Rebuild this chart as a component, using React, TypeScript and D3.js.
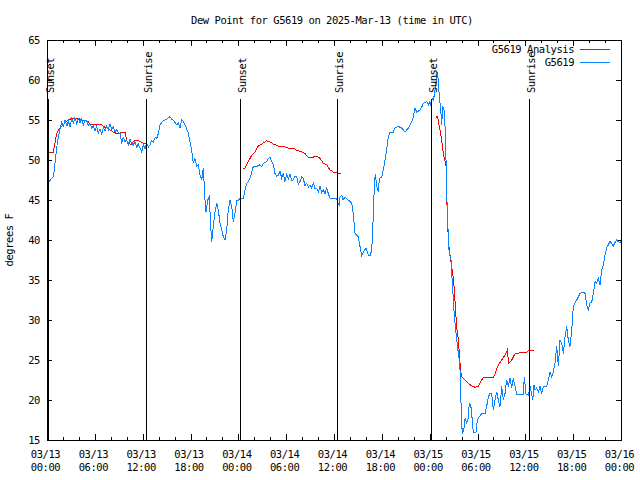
import React from "react";
import * as d3 from "d3";

const START = Date.UTC(2025, 2, 13);
const END = Date.UTC(2025, 2, 16);

const blueHours = [0.04,0.25,0.59,0.79,0.92,1.09,1.29,1.51,1.72,1.84,2.04,2.26,2.51,2.67,2.89,3.10,3.30,3.51,3.73,3.93,4.14,4.35,4.55,4.77,5.02,5.18,5.39,5.61,5.81,6.02,6.23,6.44,6.65,6.86,7.06,7.28,7.49,7.69,7.90,8.11,8.32,8.53,8.74,8.94,9.16,9.37,9.57,9.78,9.99,10.20,10.41,10.62,10.83,11.04,11.25,11.45,11.67,11.88,12.08,12.29,12.51,12.71,12.92,13.13,13.33,13.55,13.76,13.96,14.17,14.39,14.59,14.80,15.01,15.22,15.43,15.64,15.84,16.06,16.27,16.47,16.68,16.90,17.10,17.31,17.52,17.72,17.94,18.15,18.35,18.56,18.78,18.98,19.19,19.40,19.61,19.82,19.94,20.16,20.36,20.53,20.66,20.86,21.07,21.29,21.49,21.70,21.91,22.12,22.33,22.54,22.74,22.96,23.17,23.37,23.58,23.80,24.00,24.21,24.62,24.84,25.05,25.25,25.46,25.68,25.88,26.30,26.72,26.93,27.13,27.55,27.76,27.97,28.19,28.39,28.60,28.81,29.01,29.22,29.44,29.64,29.85,30.07,30.27,30.48,30.69,30.90,31.11,31.32,31.52,31.74,31.95,32.15,32.36,32.58,32.78,32.99,33.21,33.41,33.62,33.83,34.03,34.25,34.46,34.66,34.87,35.09,35.29,35.50,35.91,36.34,36.50,36.67,36.75,36.97,37.13,37.38,37.79,38.22,38.42,38.64,38.85,39.05,39.26,39.48,39.68,40.02,40.30,40.60,40.81,40.93,41.06,41.18,41.36,41.56,41.69,41.99,42.19,42.40,42.61,42.81,43.03,43.44,43.65,44.07,44.49,44.91,45.32,45.53,45.75,45.95,46.16,46.37,46.58,46.79,47.00,47.21,47.63,47.84,48.04,48.17,48.33,48.48,48.67,48.80,48.96,49.08,49.21,49.39,49.51,49.64,49.80,49.93,50.05,50.14,50.27,50.39,50.47,50.68,50.77,50.90,50.97,51.10,51.27,51.40,51.60,51.73,51.81,51.90,52.02,52.15,52.31,52.44,52.65,52.81,52.97,53.15,53.27,53.47,53.81,53.98,54.23,54.53,54.95,55.15,55.36,55.57,55.78,55.98,56.20,56.41,56.61,56.82,57.04,57.24,57.45,57.66,57.86,58.08,58.29,58.49,58.71,58.92,59.75,59.87,60.09,60.38,60.59,60.93,61.09,61.21,61.43,61.63,61.84,62.05,62.26,62.68,62.88,63.10,63.31,63.51,63.72,63.94,64.14,64.35,64.56,64.77,64.98,65.19,65.39,65.60,65.82,66.02,66.23,66.45,66.86,67.27,67.49,67.70,67.90,68.11,68.32,68.53,68.74,68.95,69.15,69.37,69.58,69.79,69.99,70.20,70.41,70.62,70.83,71.04,71.25,71.46,71.66,71.87,72.0];

const blueValues = [46.9,47.3,47.7,47.9,48.75,50.4,52.1,53.3,54.2,54.7,54.2,55.0,54.3,54.9,54.1,55.2,54.6,55.3,54.5,55.2,54.7,55.1,54.4,55.0,54.9,54.3,54.5,54.0,54.3,53.6,54.2,53.4,53.9,53.3,54.0,53.6,54.2,53.8,54.5,53.9,54.1,53.5,53.8,53.4,53.3,52.2,52.8,52.3,52.5,51.9,52.6,52.1,51.9,52.3,51.6,52.0,51.5,51.0,51.9,51.4,52.1,51.6,51.9,52.4,52.2,52.8,52.7,53.3,54.4,54.7,54.9,55.0,55.1,55.3,55.4,55.1,55.0,54.7,54.4,54.6,54.0,55.0,54.8,54.4,53.9,53.4,52.3,51.25,49.6,50.2,49.2,49.4,48.1,47.5,49.0,45.0,43.5,45.0,45.4,41.7,39.8,41.7,43.5,44.6,43.75,42.1,41.25,40.4,40.0,41.25,43.75,45.0,44.2,42.3,43.3,45.0,45.0,45.2,45.2,46.25,47.1,47.3,47.7,48.5,49.2,49.2,49.4,49.2,49.6,49.8,50.2,50.4,49.8,49.4,48.3,48.0,48.1,48.6,47.7,48.4,47.3,48.3,47.6,48.2,47.4,47.5,48.0,47.9,47.0,47.3,47.9,47.7,46.8,47.1,46.6,46.9,46.5,47.1,46.4,46.5,46.0,46.7,45.9,46.25,45.8,46.5,45.8,45.2,45.2,45.2,44.6,44.4,45.4,45.6,45.0,45.4,45.0,44.6,43.3,40.8,40.6,40.4,39.2,38.1,38.5,39.0,38.1,38.1,39.8,43.3,46.7,48.3,46.7,46.0,47.7,47.9,48.75,50.0,51.25,52.9,53.5,53.5,54.0,54.2,54.0,53.5,54.0,54.4,54.8,55.4,56.5,56.0,56.1,56.25,56.6,57.1,57.3,56.9,57.3,56.7,57.7,57.5,58.75,59.8,61.0,60.0,57.9,56.25,54.4,56.7,56.25,54.2,50.0,45.8,42.1,39.2,38.3,37.5,35.8,33.75,32.5,30.4,28.75,27.5,25.8,25.0,23.75,20.8,16.7,15.8,16.5,17.7,17.1,17.6,19.6,19.4,18.3,16.0,16.0,17.5,17.9,18.3,18.3,19.2,20.4,20.8,20.8,18.75,20.0,21.0,20.0,19.2,21.7,20.0,20.8,22.5,21.7,22.7,21.5,22.7,21.7,20.7,20.7,22.9,20.7,20.6,21.7,20.0,21.9,21.25,21.5,21.0,21.7,20.8,21.7,21.7,22.5,23.5,22.9,23.5,24.6,26.7,24.2,27.5,27.1,25.8,27.9,29.2,27.5,26.7,28.75,31.7,32.1,32.5,33.3,33.5,33.3,31.9,31.25,32.1,32.2,33.3,34.8,34.6,35.2,34.4,36.25,36.9,38.1,39.0,39.4,39.8,39.6,39.25,39.7,40.0,39.8,39.6,39.9];

const redHours = [0.16,0.79,1.00,1.22,1.42,1.63,1.84,2.26,2.67,3.10,3.93,4.35,5.18,5.39,6.86,7.06,7.49,8.32,8.74,9.37,9.78,9.99,10.20,10.62,10.83,11.25,11.67,12.08,12.51,NaN,
  24.62,24.84,25.25,25.68,26.09,26.51,26.93,27.55,27.97,28.39,29.01,29.64,30.27,30.90,31.32,31.95,32.36,32.78,33.21,33.83,34.25,34.66,35.09,35.50,35.91,36.34,36.88,NaN,
  48.80,49.01,49.08,49.30,49.51,49.71,49.93,50.05,50.14,50.21,50.34,50.47,50.77,50.90,51.06,51.22,51.40,51.60,51.73,51.81,51.90,52.02,52.44,52.85,53.27,53.69,54.11,54.53,54.73,55.98,56.20,56.61,57.04,57.45,57.74,57.91,58.29,58.71,59.33,60.17,60.59,61.09];

const redValues = [51.0,51.0,52.1,53.3,53.75,54.0,54.2,54.6,55.0,55.2,55.2,55.0,54.8,54.4,54.4,54.2,54.0,53.5,53.3,53.4,53.5,52.5,52.1,51.9,52.3,52.5,52.3,52.1,52.1,NaN,
  49.0,49.0,49.8,50.6,51.0,51.75,52.0,52.4,52.25,52.0,51.75,51.7,51.5,51.5,51.2,51.0,50.8,50.3,50.3,50.5,50.2,49.6,49.4,48.75,48.5,48.4,48.3,NaN,
  55.3,55.5,54.8,53.75,52.5,50.8,49.8,49.2,45.0,43.75,39.8,38.75,36.5,35.8,34.2,31.7,29.0,27.5,25.8,24.6,23.5,22.9,22.5,22.1,21.75,21.6,21.7,22.5,22.8,22.8,23.3,24.4,25.0,25.6,26.25,24.6,25.0,25.8,25.9,26.0,26.25,26.25];

const sunHours = [0.16, 12.4, 24.24, 36.42, 48.17, 60.5];
const sunLabels = ["Sunset", "Sunrise", "Sunset", "Sunrise", "Sunset", "Sunrise"];
const yTicks = [15, 20, 25, 30, 35, 40, 45, 50, 55, 60, 65];

const seriesNames = ["G5619 Analysis", "G5619"];
const seriesColors = ["#ff0000", "#0b84ff"];

const FONT = "'DejaVu Sans Mono', 'Liberation Mono', monospace";

export default function App() {
  const left = 47, right = 621, top = 40, bottom = 440;
  const x = d3.scaleUtc().domain([new Date(START), new Date(END)]).range([left, right]);
  const y = d3.scaleLinear().domain([15, 65]).range([bottom, top]);
  const toDate = (h: number) => new Date(START + h * 3600e3);

  const majorTicks = x.ticks(d3.utcHour.every(6)!);
  const minorTicks = x.ticks(d3.utcHour.every(2)!);
  const fmtD = d3.utcFormat("%m/%d");
  const fmtT = d3.utcFormat("%H:%M");

  const line = d3
    .line<[number, number]>()
    .defined((d) => !isNaN(d[0]) && !isNaN(d[1]))
    .x((d) => x(toDate(d[0])))
    .y((d) => y(d[1]));

  const blue: [number, number][] = blueHours.map((h, i) => [h, blueValues[i]]);
  const red: [number, number][] = redHours.map((h, i) => [h, redValues[i]]);

  const textStyle = { fontFamily: FONT, fontSize: 10.5, letterSpacing: -0.45 } as const;

  return (
    <svg
      width={640}
      height={480}
      style={{ position: "absolute", left: 0, top: 0, background: "#fff" }}
    >
      <rect x={0} y={0} width={640} height={480} fill="#fff" />
      <text x={332} y={24} textAnchor="middle" style={textStyle}>
        Dew Point for G5619 on 2025-Mar-13 (time in UTC)
      </text>

      {/* y ticks */}
      {yTicks.map((t) => (
        <g key={"y" + t}>
          <line x1={left} x2={left + 5} y1={Math.round(y(t)) + 0.5} y2={Math.round(y(t)) + 0.5} stroke="#000" shapeRendering="crispEdges" />
          <line x1={right - 5} x2={right} y1={Math.round(y(t)) + 0.5} y2={Math.round(y(t)) + 0.5} stroke="#000" shapeRendering="crispEdges" />
          <text x={40} y={y(t) + 4} textAnchor="end" style={textStyle}>
            {t}
          </text>
        </g>
      ))}

      {/* x ticks */}
      {minorTicks.map((d, i) => {
        const major = d.getUTCHours() % 6 === 0;
        const len = major ? 6 : 3;
        const xx = Math.round(x(d)) + 0.5;
        return (
          <g key={"x" + i}>
            <line x1={xx} x2={xx} y1={bottom} y2={bottom - len} stroke="#000" shapeRendering="crispEdges" />
            <line x1={xx} x2={xx} y1={top} y2={top + len} stroke="#000" shapeRendering="crispEdges" />
          </g>
        );
      })}
      {majorTicks.map((d, i) => (
        <g key={"xl" + i}>
          <text x={x(d) - 1.5} y={458} textAnchor="middle" style={textStyle}>
            {fmtD(d)}
          </text>
          <text x={x(d) - 1.5} y={471} textAnchor="middle" style={textStyle}>
            {fmtT(d)}
          </text>
        </g>
      ))}

      {/* y axis label */}
      <text transform="translate(13,240) rotate(-90)" textAnchor="middle" style={textStyle}>
        degrees F
      </text>

      {/* data */}
      <path d={line(red) || ""} fill="none" stroke={seriesColors[0]} strokeWidth={1} shapeRendering="crispEdges" />
      <path d={line(blue) || ""} fill="none" stroke={seriesColors[1]} strokeWidth={1} shapeRendering="crispEdges" />

      {/* sun lines */}
      {sunHours.map((h, i) => {
        const xx = Math.round(x(toDate(h))) + 0.5;
        return (
          <g key={"s" + i}>
            <line x1={xx} x2={xx} y1={y(57.6)} y2={bottom} stroke="#000" shapeRendering="crispEdges" />
            <text transform={`translate(${xx + 5},93) rotate(-90)`} textAnchor="start" style={textStyle}>
              {sunLabels[i]}
            </text>
          </g>
        );
      })}

      {/* legend */}
      {seriesNames.map((n, i) => (
        <g key={"lg" + i}>
          <text x={574} y={53 + i * 13} textAnchor="end" style={textStyle}>
            {n}
          </text>
          <line x1={580} x2={610} y1={49.5 + i * 13} y2={49.5 + i * 13} stroke={seriesColors[i]} shapeRendering="crispEdges" />
        </g>
      ))}

      {/* border */}
      <rect x={left + 0.5} y={top + 0.5} width={right - left} height={bottom - top} fill="none" stroke="#000" shapeRendering="crispEdges" />
    </svg>
  );
}
